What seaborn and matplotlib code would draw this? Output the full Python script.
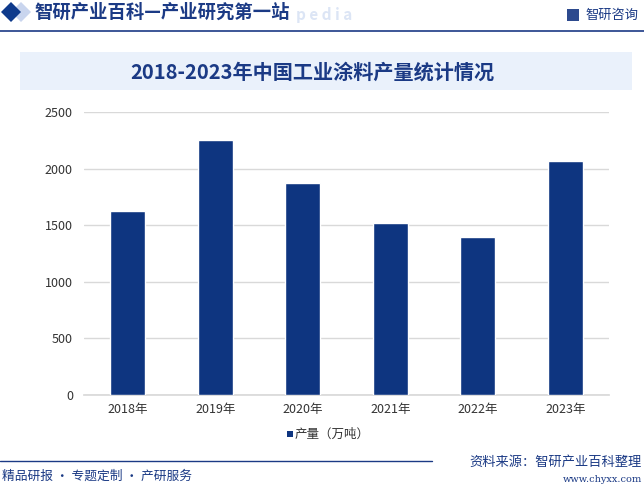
import matplotlib
matplotlib.use("Agg")
import matplotlib.pyplot as plt
import seaborn as sns
import pandas as pd
from matplotlib.patches import Rectangle, Polygon

years = ["2018年", "2019年", "2020年", "2021年", "2022年", "2023年"]
output = [1625, 2253, 1873, 1519, 1396, 2067]
yticks = [0, 500, 1000, 1500, 2000, 2500]
series_name = "产量（万吨）"
title = "2018-2023年中国工业涂料产量统计情况"

sns.set_theme(style="white")
plt.rcParams['font.family'] = ['Noto Sans CJK SC', 'DejaVu Sans']

W, H = 644, 486
fig = plt.figure(figsize=(W / 100, H / 100), dpi=100)

def fx(x): return x / W
def fy(y): return 1 - y / H

bar_color = "#0E3580"
dark = "#1B3A85"

df = pd.DataFrame({"year": years, "value": output})
ax = fig.add_axes([fx(84), fy(395), (609 - 84) / W, (395 - 112) / H])
sns.barplot(data=df, x="year", y="value", color=bar_color, width=0.4,
            saturation=1, ax=ax, zorder=3)
ax.set_ylim(0, 2500)
ax.set_yticks(yticks)
ax.set_yticklabels([str(t) for t in yticks], fontsize=9, color="#333333")
ax.tick_params(axis="x", labelsize=9, colors="#333333", length=0, pad=6)
ax.tick_params(axis="y", length=0, pad=8)
ax.set_xlabel("")
ax.set_ylabel("")
ax.yaxis.grid(True, color="#D9D9D9", linewidth=1)
for s in ["left", "right", "top"]:
    ax.spines[s].set_visible(False)
ax.spines["bottom"].set_color("#D9D9D9")

# legend
fig.patches.append(Rectangle((fx(287), fy(437)), 6 / W, 6 / H, transform=fig.transFigure,
                             facecolor=bar_color, edgecolor="none"))
fig.text(fx(295), fy(434), series_name, fontsize=9, color="#333333", va="center", ha="left")

# header
fig.patches.append(Polygon([[fx(21), fy(2)], [fx(31), fy(12)], [fx(21), fy(22)], [fx(11), fy(12)]],
                           closed=True, transform=fig.transFigure, facecolor="#C9D5EE", edgecolor="none"))
fig.patches.append(Polygon([[fx(11), fy(2)], [fx(21), fy(12)], [fx(11), fy(22)], [fx(1), fy(12)]],
                           closed=True, transform=fig.transFigure, facecolor="#0E3A8C", edgecolor="none"))
fig.text(fx(34), fy(12), "智研产业百科—产业研究第一站", fontsize=13.2, color=dark,
         va="center", ha="left", fontweight="bold")
fig.text(fx(296), fy(15), "p e d i a", fontsize=11, color="#DCE5F5",
         va="center", ha="left", fontweight="bold")
fig.patches.append(Rectangle((fx(567), fy(21)), 12 / W, 12 / H, transform=fig.transFigure,
                             facecolor="#2D4A8E", edgecolor="none"))
fig.text(fx(585), fy(15), "智研咨询", fontsize=9.5, color="#1B3A85", va="center", ha="left")
fig.add_artist(plt.Line2D([fx(0), fx(644)], [fy(31), fy(31)], transform=fig.transFigure,
                          color="#1B3A85", linewidth=1.2))

# title band
fig.patches.append(Rectangle((fx(20), fy(90)), (632 - 20) / W, (90 - 52) / H,
                             transform=fig.transFigure, facecolor="#EAF1FB", edgecolor="none"))
fig.text(fx(312), fy(72), title, fontsize=14.5, color=dark, va="center", ha="center",
         fontweight="bold")

# footer
fig.add_artist(plt.Line2D([fx(0), fx(432)], [fy(461), fy(461)], transform=fig.transFigure,
                          color="#1B3A85", linewidth=1))
fig.text(fx(2), fy(476), "精品研报 · 专题定制 · 产研服务", fontsize=9.2, color="#1B3A85",
         va="center", ha="left")
fig.text(fx(642), fy(462), "资料来源：智研产业百科整理", fontsize=9.5, color="#1B3A85",
         va="center", ha="right")
fig.text(fx(642), fy(479), "www.chyxx.com", fontsize=7, color="#1B3A85",
         va="center", ha="right", family="DejaVu Serif")

fig.savefig("out.png", dpi=100)
